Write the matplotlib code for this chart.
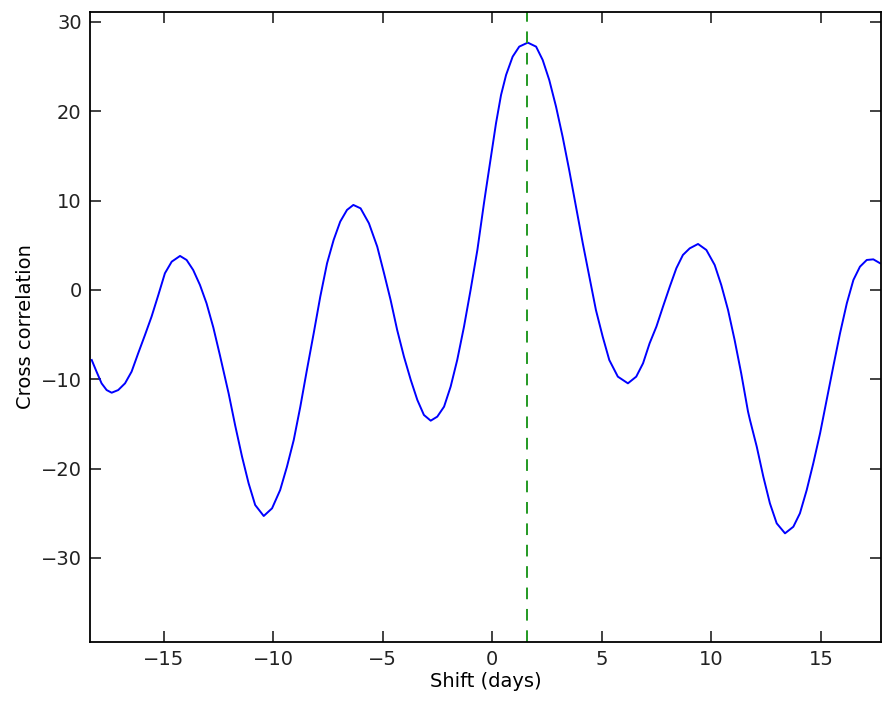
import numpy as np
import matplotlib
matplotlib.use("Agg")
from matplotlib import pyplot as plt

# cross correlation against lag (days)
shift = np.array([
    -18.28, -18.06, -17.83, -17.60, -17.37, -17.07, -16.76, -16.46, -16.16,
    -15.85, -15.55, -15.24, -14.94, -14.63, -14.25, -13.95, -13.65, -13.34,
    -13.04, -12.73, -12.43, -12.03, -11.73, -11.42, -11.12, -10.82,
    -10.43, -10.05, -9.68, -9.37, -9.06, -8.76, -8.46, -8.15, -7.85,
    -7.54, -7.24, -6.94, -6.63, -6.34, -6.01, -5.63, -5.25, -4.94,
    -4.64, -4.34, -4.03, -3.72, -3.42, -3.12, -2.81, -2.51, -2.20,
    -1.90, -1.60, -1.29, -0.99, -0.68, -0.38, -0.29, -0.06, 0.17,
    0.40, 0.63, 0.93, 1.23, 1.62, 2.00, 2.30, 2.60, 2.91,
    3.21, 3.51, 3.82, 4.13, 4.43, 4.73, 5.04, 5.34, 5.73,
    6.19, 6.57, 6.88, 7.18, 7.49, 7.79, 8.10, 8.40, 8.70,
    9.01, 9.39, 9.77, 10.15, 10.45, 10.76, 11.06, 11.36, 11.67,
    11.76, 12.07, 12.37, 12.67, 12.98, 13.36, 13.74, 14.04, 14.35,
    14.65, 14.96, 15.26, 15.56, 15.87, 16.18, 16.48, 16.78, 17.09,
    17.39, 17.70,
])
xcorr = np.array([
    -7.84, -9.14, -10.45, -11.20, -11.50, -11.20, -10.45, -9.14, -7.09,
    -5.04, -2.99, -0.56, 1.87, 3.17, 3.81, 3.36, 2.24, 0.56,
    -1.49, -4.20, -7.30, -11.60, -15.20, -18.66, -21.64, -24.07,
    -25.30, -24.44, -22.39, -19.78, -16.79, -13.06, -8.96, -4.85, -0.75,
    2.99, 5.60, 7.65, 8.96, 9.52, 9.14, 7.47, 4.85, 1.87,
    -1.12, -4.48, -7.47, -10.07, -12.31, -13.99, -14.63, -14.18, -13.06,
    -10.82, -7.84, -4.10, 0.00, 4.48, 9.70, 11.19, 14.92, 18.66,
    21.83, 24.07, 26.12, 27.24, 27.69, 27.24, 25.75, 23.51, 20.52,
    17.16, 13.43, 9.33, 5.23, 1.49, -2.24, -5.23, -7.84, -9.70,
    -10.45, -9.70, -8.21, -5.97, -4.10, -1.87, 0.37, 2.43, 3.92,
    4.66, 5.15, 4.48, 2.80, 0.56, -2.24, -5.60, -9.33, -13.60,
    -14.55, -17.54, -20.90, -23.88, -26.12, -27.24, -26.50, -25.00, -22.39,
    -19.40, -16.04, -12.31, -8.59, -4.85, -1.49, 1.12, 2.61, 3.36,
    3.43, 2.99,
])
best_shift = 1.58

xticks = [-15, -10, -5, 0, 5, 10, 15]
yticks = [-30, -20, -10, 0, 10, 20, 30]

plt.rcParams['font.family'] = ['DejaVu Sans']
plt.rcParams['font.size'] = 14

fig = plt.figure(figsize=(8.89, 7.01), dpi=100)
ax = fig.add_axes([0.1012, 0.0846, 0.8898, 0.8987])

ax.plot(shift, xcorr, color='#0000ff', lw=1.4)
ax.axvline(best_shift, color='#229922', ls=(0, (6, 5)), lw=1.4)

ax.set_xlim(-18.36, 17.74)
ax.set_ylim(-39.37, 31.15)
ax.set_xticks(xticks)
ax.set_yticks(yticks)
ax.tick_params(direction='in', length=8, width=1.2, top=True, right=True,
               labelsize=14, pad=6, colors='#222222')
for s in ax.spines.values():
    s.set_linewidth(1.3)

ax.set_xlabel("Shift (days)", fontsize=14, labelpad=2)
ax.set_ylabel("Cross correlation", fontsize=14, labelpad=4)

fig.savefig("out.png", dpi=100)
